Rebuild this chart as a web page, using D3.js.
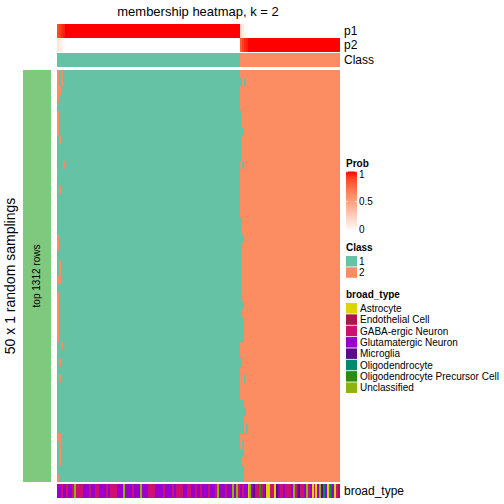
<!DOCTYPE html>
<html><head><meta charset="utf-8">
<script src="https://cdn.jsdelivr.net/npm/d3@7"></script>
<style>body{margin:0;background:#fff}svg{display:block;font-family:"Liberation Sans",Arial,sans-serif}</style>
</head><body><svg id="c" width="504" height="504"></svg>
<script>
// ---------------- data ----------------
const chartTitle = "membership heatmap, k = 2";
const nRuns = 50;
// p1 per column, run-length encoded (value, count); p2 = 1 - p1
const p1RunValues = [0.86, 0.9, 0.94, 0.97, 1, 0.2, 0.1, 0.05, 0.03, 0];
const p1RunCounts = [1, 1, 1, 1, 93, 1, 1, 1, 1, 49];
// broad_type code per column
const broadTypeCodes = [
  "G","G","B","G","G","B","G","G","B","U",
  "B","B","B","B","G","G","G","B","G","G",
  "B","B","G","G","G","G","B","G","B","B",
  "B","B","G","G","G","U","G","G","G","G",
  "B","G","G","G","U","G","G","G","B","B",
  "B","B","G","G","G","G","B","G","G","G",
  "G","B","G","B","B","B","B","G","G","B",
  "B","G","G","B","G","G","B","G","G","G",
  "B","G","G","G","B","U","G","G","G","B",
  "G","G","G","U","G","U","B","G","B","G",
  "G","A","U","G","M","B","B","P","B","G",
  "M","A","A","B","B","A","M","G","B","B",
  "G","B","B","B","G","U","B","G","M","B",
  "B","G","U","B","G","A","B","A","G","U",
  "M","O","G","A","O","B","G","A","B","E"
];
const broadTypeNames = ["Astrocyte","Endothelial Cell","GABA-ergic Neuron","Glutamatergic Neuron","Microglia","Oligodendrocyte","Oligodendrocyte Precursor Cell","Unclassified"];
const broadTypeKeys = ["A","E","B","G","M","O","P","U"];
const broadTypeColors = ["#DDD400","#B0124A","#CC1170","#9A00CC","#5A0A8A","#008A6E","#2E8B0E","#8DB30F"];
const classLabels = ["1","2"];
const classColors = ["#66C2A5","#FC8D62"];
// cells in a sampling (row) that disagree with the consensus class: [row, firstCol, lastCol]
const flippedCells = [
  [0,0,0],[0,2,2],[1,0,0],[1,2,2],[2,0,1],[3,0,0],[5,0,0],[6,0,0],[7,0,0],[8,1,1],
  [11,3,3],[14,1,1],[20,0,0],[21,0,0],[23,1,1],[24,1,1],[25,0,1],[27,0,0],[28,0,0],
  [29,0,0],[30,0,0],[31,0,0],[32,0,0],[33,2,2],[35,1,1],[37,1,1],[44,0,1],[45,1,1],
  [46,1,1],[47,1,1],[49,0,0],
  [1,97,97],[1,99,99],[5,97,97],[6,97,97],[7,97,98],[8,97,97],[9,97,97],[10,97,97],
  [11,98,98],[18,97,97],[19,97,97],[20,97,98],[21,97,97],[22,97,97],[23,97,97],
  [24,97,97],[25,97,97],[26,97,97],[27,97,97],[28,97,98],[29,97,97],[30,97,98],
  [31,97,98],[32,97,98],[35,97,97],[37,99,99],[40,97,98],[41,97,99],[42,97,98],
  [43,97,98],[43,100,100],[45,98,98],[46,97,98],[47,97,97],[48,97,98],[49,97,98]
];
const probTicks = [0, 0.5, 1];
const leftLabel = "50 x 1 random samplings";
const groupLabel = "top 1312 rows";

// ---------------- derived ----------------
const p1 = [];
p1RunValues.forEach((v, i) => { for (let k = 0; k < p1RunCounts[i]; k++) p1.push(v); });
const nCols = p1.length;
const p2 = p1.map(v => 1 - v);
const colClass = p1.map(v => v >= 0.5 ? 1 : 2);
const matrix = d3.range(nRuns).map(() => colClass.slice());
flippedCells.forEach(([r, a, b]) => { for (let c = a; c <= b; c++) matrix[r][c] = 3 - colClass[c]; });

// ---------------- drawing ----------------
const svg = d3.select("#c");
const x = d3.scaleBand().domain(d3.range(nCols)).range([57, 340]).padding(0);
const y = d3.scaleBand().domain(d3.range(nRuns)).range([70, 482]).padding(0);
const probColor = d3.scaleLinear().domain([0, 1]).range(["#FFFFFF", "#FF0000"]).interpolate(d3.interpolateLab);
const classColor = d3.scaleOrdinal().domain([1, 2]).range(classColors);
const btColor = d3.scaleOrdinal().domain(broadTypeKeys).range(broadTypeColors);
const bw = x.bandwidth();

svg.append("text").attr("x", 198).attr("y", 16).attr("text-anchor", "middle")
  .attr("font-size", 13).text(chartTitle);

// top annotations
const annRows = [
  {name: "p1", vals: p1, color: probColor, y0: 24, h: 14},
  {name: "p2", vals: p2, color: probColor, y0: 38, h: 14},
  {name: "Class", vals: colClass, color: classColor, y0: 53, h: 14}
];
annRows.forEach(a => {
  svg.append("g").selectAll("rect").data(a.vals).join("rect")
    .attr("x", (d, i) => x(i)).attr("width", bw + 0.3)
    .attr("y", a.y0).attr("height", a.h)
    .attr("fill", d => a.color(d)).attr("shape-rendering", "crispEdges");
  svg.append("text").attr("x", 344).attr("y", a.y0 + a.h / 2).attr("dy", "0.35em")
    .attr("font-size", 12).text(a.name);
});

// heatmap body: runs of same class per row
const runs = [];
matrix.forEach((row, r) => {
  let s = 0;
  for (let c = 1; c <= nCols; c++) {
    if (c === nCols || row[c] !== row[s]) { runs.push({r, s, e: c - 1, v: row[s]}); s = c; }
  }
});
svg.append("g").selectAll("rect").data(runs).join("rect")
  .attr("x", d => x(d.s)).attr("width", d => x(d.e) + bw - x(d.s))
  .attr("y", d => y(d.r)).attr("height", y.bandwidth() + 0.3)
  .attr("fill", d => classColor(d.v)).attr("shape-rendering", "crispEdges");

// left group bar
svg.append("rect").attr("x", 23).attr("y", 70).attr("width", 28).attr("height", 412).attr("fill", "#7FC97F");
svg.append("text").attr("transform", "translate(40,276) rotate(-90)").attr("text-anchor", "middle")
  .attr("font-size", 10).text(groupLabel);
svg.append("text").attr("transform", "translate(15,276) rotate(-90)").attr("text-anchor", "middle")
  .attr("font-size", 14).text(leftLabel);

// bottom broad_type annotation
svg.append("g").selectAll("rect").data(broadTypeCodes).join("rect")
  .attr("x", (d, i) => x(i)).attr("width", bw + 0.3)
  .attr("y", 484).attr("height", 14)
  .attr("fill", d => btColor(d)).attr("shape-rendering", "crispEdges");
svg.append("text").attr("x", 344).attr("y", 491).attr("dy", "0.35em").attr("font-size", 12).text("broad_type");

// legends
const lx = 346;
const defs = svg.append("defs");
const grad = defs.append("linearGradient").attr("id", "pg").attr("x1", 0).attr("y1", 1).attr("x2", 0).attr("y2", 0);
d3.range(0, 1.0001, 0.1).forEach(t => grad.append("stop").attr("offset", t).attr("stop-color", probColor(t)));
svg.append("text").attr("x", lx).attr("y", 163).attr("dy", "0.35em").attr("font-size", 10).attr("font-weight", "bold").text("Prob");
const py = d3.scaleLinear().domain([0, 1]).range([231.5, 171.7]);
svg.append("rect").attr("x", lx).attr("y", 171.5).attr("width", 11).attr("height", 60).attr("fill", "url(#pg)");
probTicks.forEach(t => {
  const yy = py(t);
  svg.append("line").attr("x1", lx).attr("x2", lx + 2).attr("y1", yy).attr("y2", yy).attr("stroke", "#fff").attr("stroke-width", 0.8);
  svg.append("line").attr("x1", lx + 9).attr("x2", lx + 11).attr("y1", yy).attr("y2", yy).attr("stroke", "#fff").attr("stroke-width", 0.8);
  const ly = Math.max(174, Math.min(229, yy));
  svg.append("text").attr("x", lx + 13).attr("y", ly).attr("dy", "0.35em").attr("font-size", 10).text(d3.format("")(t));
});

svg.append("text").attr("x", lx).attr("y", 247).attr("dy", "0.35em").attr("font-size", 10).attr("font-weight", "bold").text("Class");
classLabels.forEach((c, i) => {
  svg.append("rect").attr("x", lx).attr("y", 256 + i * 11.3).attr("width", 11).attr("height", 10.5).attr("fill", classColors[i]);
  svg.append("text").attr("x", lx + 13).attr("y", 261.3 + i * 11.3).attr("dy", "0.35em").attr("font-size", 10).text(c);
});

svg.append("text").attr("x", lx).attr("y", 294).attr("dy", "0.35em").attr("font-size", 10).attr("font-weight", "bold").text("broad_type");
broadTypeNames.forEach((n, i) => {
  svg.append("rect").attr("x", lx).attr("y", 303 + i * 11.35).attr("width", 11).attr("height", 10.5).attr("fill", broadTypeColors[i]);
  svg.append("text").attr("x", lx + 14).attr("y", 308.3 + i * 11.35).attr("dy", "0.35em").attr("font-size", 10).text(n);
});
</script></body></html>
